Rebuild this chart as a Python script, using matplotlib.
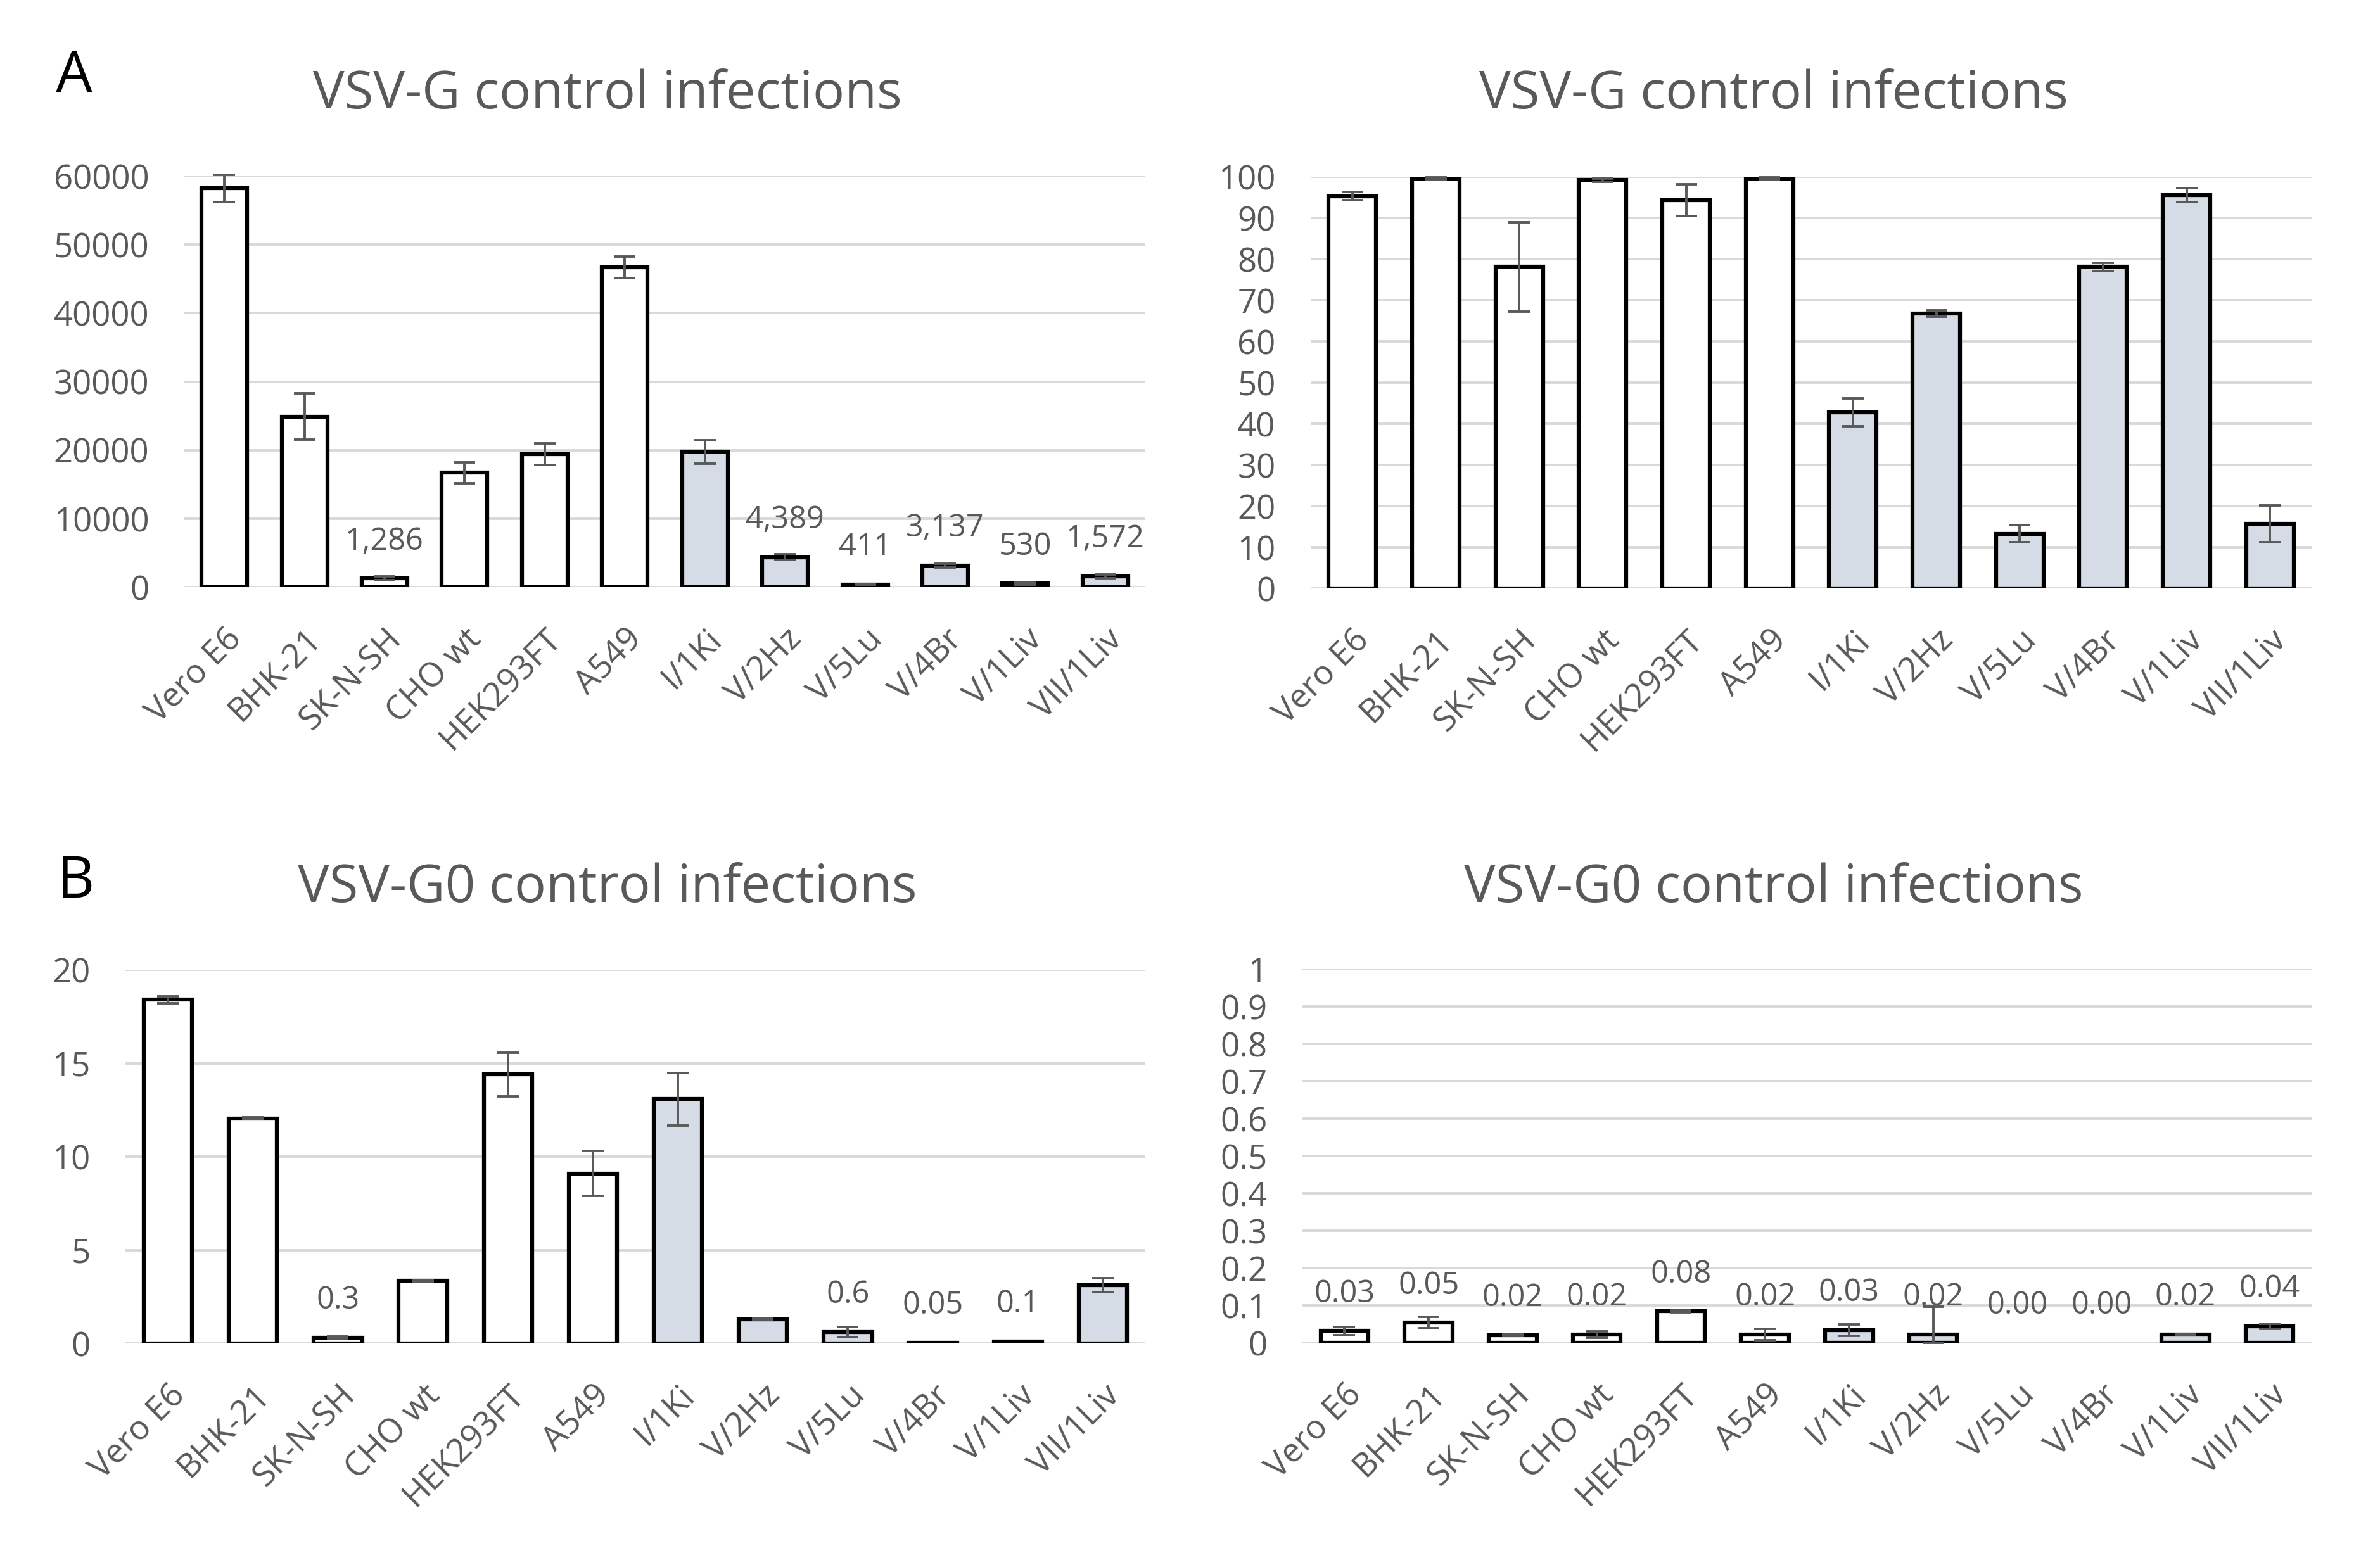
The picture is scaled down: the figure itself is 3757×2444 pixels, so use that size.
import matplotlib
matplotlib.use("Agg")
import matplotlib.pyplot as plt

plt.rcParams['font.family'] = ['Open Sans', 'DejaVu Sans']

cells = ['Vero E6', 'BHK-21', 'SK-N-SH', 'CHO wt', 'HEK293FT', 'A549',
         'I/1Ki', 'V/2Hz', 'V/5Lu', 'V/4Br', 'V/1Liv', 'VII/1Liv']

# VSV-G, absolute counts (A left)
g_abs = [58200, 24900, 1286, 16700, 19400, 46700, 19750, 4389, 411, 3137, 530, 1572]
g_abs_err = [2000, 3400, 300, 1550, 1600, 1600, 1700, 400, 80, 250, 120, 250]
g_abs_labels = [None, None, '1,286', None, None, None, None, '4,389', '411', '3,137', '530', '1,572']

# VSV-G, percent (A right)
g_pct = [95.3, 99.6, 78.1, 99.2, 94.3, 99.6, 42.8, 66.8, 13.3, 78.1, 95.6, 15.7]
g_pct_err = [1.0, 0.3, 10.9, 0.4, 3.9, 0.3, 3.4, 0.8, 2.1, 1.0, 1.7, 4.4]

# VSV-G0, absolute (B left)
g0_abs = [18.39, 12.04, 0.32, 3.34, 14.39, 9.10, 13.08, 1.30, 0.62, 0.05, 0.1, 3.12]
g0_abs_err = [0.2, 0.05, 0.05, 0.05, 1.17, 1.2, 1.41, 0.06, 0.27, 0.0, 0.0, 0.37]
g0_abs_labels = [None, None, '0.3', None, None, None, None, None, '0.6', '0.05', '0.1', None]

# VSV-G0, percent (B right)
g0_pct = [0.032, 0.054, 0.021, 0.022, 0.084, 0.022, 0.034, 0.022, 0.0, 0.0, 0.022, 0.044]
g0_pct_err = [0.011, 0.015, 0.003, 0.009, 0.003, 0.016, 0.015, 0.075, 0.0, 0.0, 0.002, 0.007]

fills = ['white'] * 6 + ['#D6DCE5'] * 6
grey = '#595959'

W, H = 3757, 2444
fig = plt.figure(figsize=(W / 100, H / 100), dpi=100)


def box(x0, x1, ytop, ybot):
    return [x0 / W, 1 - ybot / H, (x1 - x0) / W, (ybot - ytop) / H]


def panel(rect, vals, errs, ymax, ticks, ticklabels, labels=None):
    ax = fig.add_axes(rect)
    x = list(range(len(cells)))
    lws = [4.5 if v > 0 else 0 for v in vals]
    ax.bar(x, vals, width=0.57, color=fills, edgecolor='black', linewidth=lws, zorder=3)
    # error bars, lower arm stops at zero
    ex = [i for i in x if errs[i] > 0]
    ey = [vals[i] for i in ex]
    lo = [min(errs[i], vals[i]) for i in ex]
    hi = [errs[i] for i in ex]
    ax.errorbar(ex, ey, yerr=[lo, hi], fmt='none', ecolor=grey, elinewidth=2.8,
                capsize=12, capthick=2.8, zorder=4, clip_on=False)
    ax.set_xlim(-0.5, len(cells) - 0.5)
    ax.set_ylim(0, ymax)
    ax.set_yticks(ticks)
    ax.set_yticklabels(ticklabels)
    ax.set_xticks(x)
    ax.set_xticklabels(cells, rotation=45, ha='right', rotation_mode='anchor')
    for s in ax.spines.values():
        s.set_visible(False)
    ax.tick_params(axis='both', length=0, labelsize=38, colors=grey)
    ax.tick_params(axis='y', pad=40)
    ax.tick_params(axis='x', pad=40)
    ax.yaxis.grid(True, color='#D9D9D9', linewidth=2.8, zorder=0)
    ax.set_axisbelow(True)
    if labels is not None:
        for i, lab in enumerate(labels):
            if lab is None:
                continue
            ax.annotate(lab, (i, vals[i]), xytext=(0, 42), textcoords='offset points',
                        ha='center', va='center', fontsize=35, color=grey, zorder=5)
    return ax


panel(box(291, 1808, 278, 927), g_abs, g_abs_err, 60000,
      range(0, 60001, 10000), [str(v) for v in range(0, 60001, 10000)], g_abs_labels)
panel(box(2069, 3649, 279, 929), g_pct, g_pct_err, 100,
      range(0, 101, 10), [str(v) for v in range(0, 101, 10)])
panel(box(198, 1808, 1531, 2121), g0_abs, g0_abs_err, 20,
      range(0, 21, 5), [str(v) for v in range(0, 21, 5)], g0_abs_labels)
pct_ticks = [i / 10 for i in range(11)]
panel(box(2056, 3649, 1530, 2120), g0_pct, g0_pct_err, 1,
      pct_ticks, ['0'] + [f'{t:.1f}' for t in pct_ticks[1:-1]] + ['1'],
      [f'{v:.2f}' for v in g0_pct])

for tx, ty, s in [(959, 150, 'VSV-G control infections'),
                  (2800, 150, 'VSV-G control infections'),
                  (959, 1403, 'VSV-G0 control infections'),
                  (2800, 1403, 'VSV-G0 control infections')]:
    fig.text(tx / W, 1 - ty / H, s, ha='center', va='center', fontsize=60, color=grey)
fig.text(117 / W, 1 - 122 / H, 'A', ha='center', va='center', fontsize=66, color='black')
fig.text(120 / W, 1 - 1393 / H, 'B', ha='center', va='center', fontsize=66, color='black')

fig.savefig('out.png', dpi=100, facecolor='white')
